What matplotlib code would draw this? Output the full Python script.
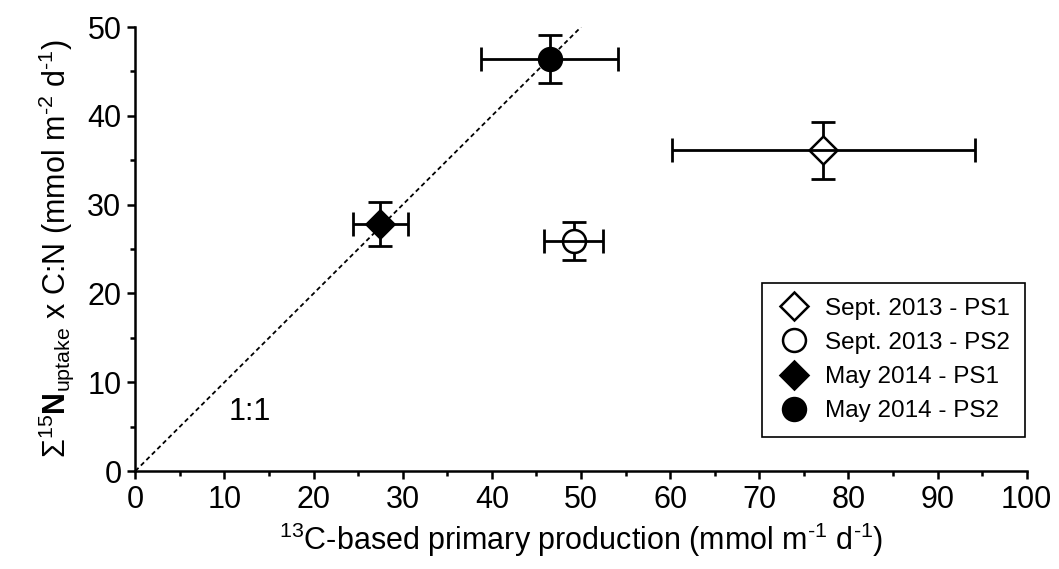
import numpy as np
import matplotlib
matplotlib.use("Agg")
import matplotlib.pyplot as plt
from matplotlib.ticker import MultipleLocator

plt.rcParams['font.family'] = ['Liberation Sans', 'DejaVu Sans']
plt.rcParams['mathtext.fontset'] = 'custom'
plt.rcParams['mathtext.rm'] = 'Liberation Sans'
plt.rcParams['mathtext.it'] = 'Liberation Sans:italic'
plt.rcParams['mathtext.bf'] = 'Liberation Sans:bold'

# 13C-based primary production vs. sum of 15N uptake x C:N, per station
labels = ["Sept. 2013 - PS1", "Sept. 2013 - PS2", "May 2014 - PS1", "May 2014 - PS2"]
pp_c13 = [77.2, 49.2, 27.5, 46.5]
pp_c13_err = [17.0, 3.3, 3.1, 7.7]
n_uptake_cn = [36.1, 25.9, 27.8, 46.4]
n_uptake_cn_err = [3.2, 2.1, 2.5, 2.7]

markers = ["D", "o", "D", "o"]
sizes = [14.5, 16.5, 14.5, 16.5]
faces = ["white", "white", "black", "black"]

fig = plt.figure(figsize=(10.59, 5.69), dpi=100)
ax = fig.add_axes([0.1278, 0.1722, 0.8417, 0.7803])

# 1:1 reference line
one_to_one = np.array([0, 50])
ax.plot(one_to_one, one_to_one, color="black", lw=1.3, dashes=(2.5, 1.8), zorder=1)
ax.text(10.5, 6.6, "1:1", fontsize=22, va="center", ha="left")

for i in range(len(labels)):
    # vertical bars sit under the marker, horizontal bars run across it
    ax.errorbar(pp_c13[i], n_uptake_cn[i], yerr=n_uptake_cn_err[i], fmt="none",
                ecolor="black", elinewidth=2, capsize=8.5, capthick=2, zorder=2)
    ax.plot(pp_c13[i], n_uptake_cn[i], linestyle="none", marker=markers[i],
            markersize=sizes[i], markerfacecolor=faces[i], markeredgecolor="black",
            markeredgewidth=1.8, label=labels[i], zorder=3)
    ax.errorbar(pp_c13[i], n_uptake_cn[i], xerr=pp_c13_err[i], fmt="none",
                ecolor="black", elinewidth=2, capsize=8.5, capthick=2, zorder=4)

ax.set_xlim(0, 100)
ax.set_ylim(0, 50)
ax.xaxis.set_major_locator(MultipleLocator(10))
ax.xaxis.set_minor_locator(MultipleLocator(5))
ax.yaxis.set_major_locator(MultipleLocator(10))
ax.yaxis.set_minor_locator(MultipleLocator(5))
ax.tick_params(which="major", direction="out", length=6, width=1.8, labelsize=22, pad=4)
ax.tick_params(which="minor", direction="out", length=3.5, width=1.8)

for side in ["top", "right"]:
    ax.spines[side].set_visible(False)
for side in ["left", "bottom"]:
    ax.spines[side].set_linewidth(1.8)

ax.set_xlabel(r"$^{13}$C-based primary production (mmol m$^{\text{-1}}$ d$^{\text{-1}}$)",
              fontsize=22, labelpad=4)
ax.set_ylabel(r"$\Sigma^{15}\mathbf{N}_{\mathrm{uptake}}$ x C:N (mmol m$^{\text{-2}}$ d$^{\text{-1}}$)",
              fontsize=22, labelpad=8)

leg = ax.legend(loc="lower right", bbox_to_anchor=(0.998, 0.077), borderaxespad=0,
                fontsize=17.5, frameon=True, fancybox=False, edgecolor="black",
                framealpha=1, handlelength=1.4, handletextpad=0.6, labelspacing=0.5,
                borderpad=0.6, markerscale=1.0)
leg.get_frame().set_linewidth(1.2)

fig.savefig("out.png", dpi=100)
